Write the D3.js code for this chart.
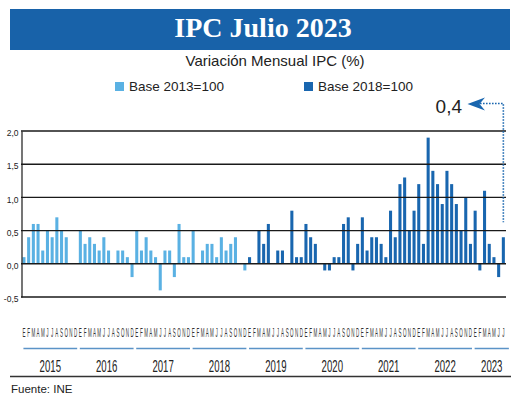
<!DOCTYPE html>
<html><head><meta charset="utf-8">
<script src="https://cdn.jsdelivr.net/npm/d3@7"></script>
<style>body{margin:0;background:#fff}svg{display:block}</style>
</head><body>
<svg id="c" width="520" height="398"></svg>
<script>
const years = ["2015","2016","2017","2018","2019","2020","2021","2022","2023"];
const monthLetters = ["E","F","M","A","M","J","J","A","S","O","N","D"];
// Base 2013=100: Jan 2015 - Dec 2018
const base2013 = [
  0.1,0.4,0.6,0.6,0.2,0.5,0.4,0.7,0.5,0.4,0.0,0.0,
  0.5,0.3,0.4,0.3,0.2,0.4,0.2,0.0,0.2,0.2,0.1,-0.2,
  0.5,0.2,0.4,0.2,0.1,-0.4,0.2,0.2,-0.2,0.6,0.1,0.1,
  0.5,0.0,0.2,0.3,0.3,0.1,0.4,0.2,0.3,0.4,0.0,-0.1
];
// Base 2018=100: Jan 2019 - Jul 2023
const base2018 = [
  0.1,0.0,0.5,0.3,0.6,0.0,0.2,0.2,0.0,0.8,0.1,0.1,
  0.6,0.4,0.3,0.0,-0.1,-0.1,0.1,0.1,0.6,0.7,-0.1,0.3,
  0.7,0.2,0.4,0.4,0.3,0.1,0.8,0.4,1.2,1.3,0.5,0.8,
  1.2,0.3,1.9,1.4,1.2,0.9,1.4,1.2,0.9,0.5,1.0,0.3,
  0.8,-0.1,1.1,0.3,0.1,-0.2,0.4
];
const yTicks = [-0.5,0,0.5,1.0,1.5,2.0];
const seriesNames = ["Base 2013=100","Base 2018=100"];
const colors = ["#5ab1e3","#1966af"];
const titleText = "IPC Julio 2023";
const subtitleText = "Variación Mensual IPC (%)";
const latestLabel = "0,4";
const sourceText = "Fuente: INE";

const data = [];
base2013.forEach((v,i)=>data.push({i:data.length, v, s:0}));
base2018.forEach((v,i)=>data.push({i:data.length, v, s:1}));
data.forEach(d=>{ d.m = d.i % 12; d.yr = Math.floor(d.i/12); });

const svg = d3.select("#c");
const fmt = v => d3.format(".1f")(v).replace(".", ",").replace("−","-");

// Title bar
svg.append("rect").attr("x",10).attr("y",9).attr("width",500).attr("height",41).attr("fill","#1862a9");
svg.append("text").attr("x",263).attr("y",37).attr("text-anchor","middle")
  .attr("font-family","Liberation Serif, serif").attr("font-weight","bold").attr("font-size",28)
  .attr("fill","#fff").text(titleText);
svg.append("text").attr("x",275).attr("y",66).attr("text-anchor","middle")
  .attr("font-family","Liberation Sans, sans-serif").attr("font-size",15).attr("fill","#222").text(subtitleText);

// Legend
const legX = [115,304];
seriesNames.forEach((n,k)=>{
  svg.append("rect").attr("x",legX[k]).attr("y",82).attr("width",9).attr("height",9).attr("fill",colors[k]);
  svg.append("text").attr("x",legX[k]+14).attr("y",91).attr("font-family","Liberation Sans, sans-serif")
    .attr("font-size",13.5).attr("fill","#222").text(n);
});

// Scales
const x = d3.scaleBand().domain(data.map(d=>d.i)).range([21.6, 505.7]).paddingInner(0.35).paddingOuter(0.175);
const y = d3.scaleLinear().domain([-0.5,2.0]).range([297,131]);

// Bars
svg.append("g").selectAll("rect").data(data).join("rect")
  .attr("x",d=>x(d.i)).attr("width",x.bandwidth())
  .attr("y",d=>y(Math.max(0,d.v))).attr("height",d=>Math.abs(y(d.v)-y(0)))
  .attr("fill",d=>colors[d.s]);

// Gridlines
svg.append("g").selectAll("line").data(yTicks).join("line")
  .attr("x1",21).attr("x2",506).attr("y1",d=>y(d)).attr("y2",d=>y(d))
  .attr("stroke","#1a1a1a").attr("stroke-width",1.4);
// Y axis
const yAxis = d3.axisLeft(y).tickValues(yTicks).tickSize(0).tickPadding(3).tickFormat(fmt);
const ga = svg.append("g").attr("transform","translate(21.5,0)").call(yAxis);
ga.select(".domain").attr("stroke","#1a1a1a").attr("stroke-width",1.2);
ga.selectAll("text").attr("font-family","Liberation Sans, sans-serif").attr("font-size",8.5)
  .attr("fill","#222").attr("dy","0.55em");

// Month letters
svg.append("g").selectAll("text").data(data).join("text")
  .attr("transform",d=>`translate(${x(d.i)+x.bandwidth()/2},337) scale(0.36,1)`)
  .attr("text-anchor","middle").attr("font-family","Liberation Sans, sans-serif").attr("font-size",12.5)
  .attr("fill","#333").text(d=>monthLetters[d.m]);

// Year segments and labels
years.forEach((yr,k)=>{
  const idx = data.filter(d=>d.yr===k).map(d=>d.i);
  const x0 = x(idx[0]) + 1, x1 = x(idx[idx.length-1]) + x.bandwidth() + (k===years.length-1?4:0);
  svg.append("line").attr("x1",x0).attr("x2",x1).attr("y1",348.5).attr("y2",348.5)
    .attr("stroke","#5b93c7").attr("stroke-width",1.6);
  svg.append("text").attr("transform",`translate(${(x0+x1)/2},372) scale(0.6,1)`)
    .attr("text-anchor","middle").attr("font-family","Liberation Sans, sans-serif").attr("font-size",16)
    .attr("fill","#222").text(yr);
});

// Bottom rule and source
svg.append("line").attr("x1",10).attr("x2",511).attr("y1",376.5).attr("y2",376.5).attr("stroke","#333").attr("stroke-width",1.5);
svg.append("text").attr("x",11).attr("y",393).attr("font-family","Liberation Sans, sans-serif")
  .attr("font-size",11.5).attr("fill","#222").text(sourceText);

// Annotation for latest value
const last = data[data.length-1];
const lx = x(last.i) + x.bandwidth()/2;
svg.append("path").attr("d",`M480,103.5 H${lx} V${y(last.v)-15}`).attr("fill","none")
  .attr("stroke",colors[1]).attr("stroke-width",1.6).attr("stroke-dasharray","1.6,1.4");
svg.append("path").attr("d","M467.5,104 L485,97.5 L479.5,104 L485,110.5 Z").attr("fill",colors[1]);
svg.append("text").attr("x",462).attr("y",112.5).attr("text-anchor","end")
  .attr("font-family","Liberation Sans, sans-serif").attr("font-size",19).attr("fill","#222").text(latestLabel);
</script>
</body></html>
